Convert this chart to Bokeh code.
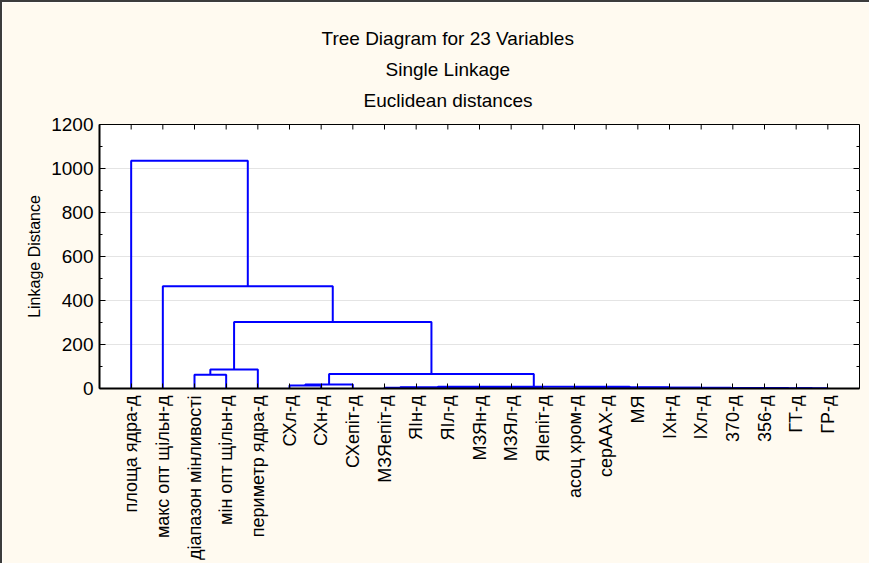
import math
from bokeh.plotting import figure
from bokeh.models import Range1d, FixedTicker, Title
from bokeh.embed import file_html
from bokeh.resources import INLINE

# ---------------- data ----------------
leaf_labels = [
    "площа ядра-д", "макс опт щільн-д", "діапазон мінливості", "мін опт щільн-д",
    "периметр ядра-д", "СХл-д", "СХн-д", "СХепіт-д", "МЗЯепіт-д", "ЯІн-д",
    "ЯІл-д", "МЗЯн-д", "МЗЯл-д", "ЯІепіт-д", "асоц хром-д", "серААХ-д", "МЯ",
    "ІХн-д", "ІХл-д", "370-д", "356-д", "ГТ-д", "ГР-д",
]
# merges (scipy-style ids: 0..22 leaves, 23+k = k-th merge)
merge_a = [12, 11, 10, 8, 26, 21, 20, 19, 18, 17, 16, 14, 34, 27, 5, 37, 38, 2, 40, 41, 1, 0]
merge_b = [13, 23, 24, 9, 25, 22, 28, 29, 30, 31, 32, 15, 33, 35, 6, 7, 36, 3, 4, 39, 42, 43]
merge_h = [2, 3, 4, 3, 6, 1, 1.5, 2, 2.5, 3, 3.5, 5, 6, 8, 14, 18, 66, 63, 86, 302, 465, 1035]

y_ticks = [0, 200, 400, 600, 800, 1000, 1200]
y_minor = [100, 300, 500, 700, 900, 1100]
title_lines = ["Tree Diagram for 23  Variables", "Single Linkage", "Euclidean distances"]
y_label = "Linkage Distance"

# ---------------- geometry from the tree ----------------
n = len(leaf_labels)
leaf_x = list(range(1, n + 1))
pos = {i: leaf_x[i] for i in range(n)}
hgt = {i: 0.0 for i in range(n)}
xs, ys = [], []
for k, (a, b, h) in enumerate(zip(merge_a, merge_b, merge_h)):
    xa, xb = pos[a], pos[b]
    xs.append([xa, xa, xb, xb])
    ys.append([hgt[a], h, h, hgt[b]])
    pos[n + k] = (xa + xb) / 2
    hgt[n + k] = h

FONT = "Liberation Sans"
CREAM = "#FFFAF0"
x_max = n + 1
y_max = y_ticks[-1]

p = figure(width=869, height=563, x_range=Range1d(0, x_max), y_range=Range1d(0, y_max),
           output_backend="svg", toolbar_location=None,
           min_border_left=97, min_border_right=12, min_border_top=122, min_border_bottom=177)
p.styles = {"border-left": "2px solid #3C3C3C", "border-top": "2px solid #3C3C3C"}
p.background_fill_color = "white"
p.border_fill_color = CREAM
p.outline_line_color = "black"
p.outline_line_width = 1

p.xgrid.grid_line_color = None
p.ygrid.ticker = FixedTicker(ticks=y_ticks)
p.ygrid.grid_line_color = "#E4E4E4"

p.multi_line(xs, ys, line_color="#0000FF", line_width=2)

# tick marks on the top and right frame edges
p.ray(x=leaf_x, y=[y_max] * n, length=5, length_units="screen", angle=-math.pi / 2,
      line_color="black", line_width=1)
p.ray(x=[x_max] * len(y_ticks), y=y_ticks, length=6, length_units="screen", angle=math.pi,
      line_color="black", line_width=1)
p.ray(x=[x_max] * len(y_minor), y=y_minor, length=3, length_units="screen", angle=math.pi,
      line_color="black", line_width=1)

# x axis
xa_ = p.xaxis[0]
xa_.ticker = FixedTicker(ticks=leaf_x)
xa_.major_label_overrides = {leaf_x[i]: lab for i, lab in enumerate(leaf_labels)}
xa_.major_label_orientation = math.pi / 2
xa_.major_label_text_font = FONT
xa_.major_label_text_font_size = "18px"
xa_.major_label_text_color = "black"
xa_.major_label_standoff = 7
xa_.major_tick_in = 5
xa_.major_tick_out = 0
xa_.major_tick_line_color = "black"
xa_.minor_tick_line_color = None
xa_.axis_line_color = "black"
xa_.axis_line_width = 2

# y axis
ya_ = p.yaxis[0]
ya_.ticker = FixedTicker(ticks=y_ticks, minor_ticks=y_minor)
ya_.major_label_text_font = FONT
ya_.major_label_text_font_size = "19px"
ya_.major_label_text_color = "black"
ya_.major_label_standoff = 6
ya_.major_tick_in = 6
ya_.major_tick_out = 0
ya_.minor_tick_in = 3
ya_.minor_tick_out = 0
ya_.major_tick_line_color = "black"
ya_.minor_tick_line_color = "black"
ya_.axis_line_color = "black"
ya_.axis_line_width = 2
ya_.axis_label = y_label
ya_.axis_label_text_font = FONT
ya_.axis_label_text_font_size = "16px"
ya_.axis_label_text_font_style = "normal"
ya_.axis_label_text_color = "black"
ya_.axis_label_standoff = 5

# titles: added nearest-first, left-aligned with offsets that centre them on the graph
for txt, off, so in zip(reversed(title_lines), [264, 286, 222], [28, -12, 28]):
    p.add_layout(Title(text=txt, align="left", offset=off, standoff=so,
                       text_font=FONT, text_font_size="19px", text_font_style="normal",
                       text_color="black"), "above")

html = file_html(p, INLINE)
html = html.replace("<body>", '<body style="background-color:%s">' % CREAM, 1)
open("out.html", "w").write(html)
